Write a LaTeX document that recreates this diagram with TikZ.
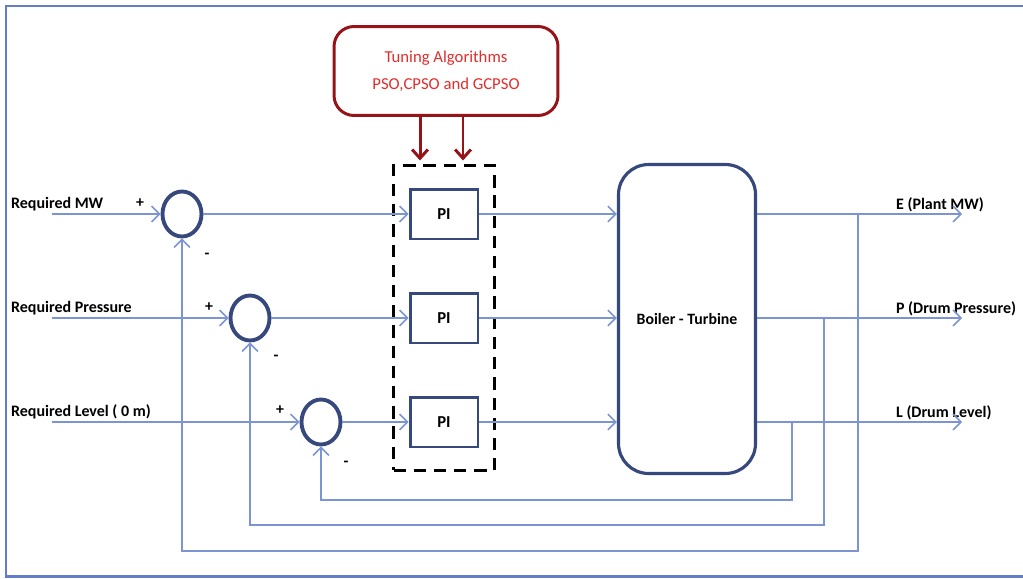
\documentclass[tikz,border=0pt]{standalone}
\usepackage{fontspec}
\setmainfont{Carlito}
\usepackage{xcolor}
\usetikzlibrary{arrows.meta, positioning, fit, shapes.geometric}

\definecolor{sigblue}{RGB}{125,148,212}
\definecolor{navy}{RGB}{55,72,125}
\definecolor{framecol}{RGB}{100,125,200}
\definecolor{tunered}{RGB}{150,20,25}
\definecolor{textred}{RGB}{225,45,45}

\begin{document}
\begin{tikzpicture}[
    x=0.02cm, y=-0.02cm,
    sumpt/.style={
        ellipse,
        draw=navy,
        line width=2.2pt,
        minimum width=0.78cm,
        minimum height=0.9cm,
        inner sep=0pt
    },
    ctrl/.style={
        rectangle,
        draw=navy,
        line width=1.7pt,
        minimum width=1.36cm,
        minimum height=1.0cm,
        font=\fontsize{9.5}{11}\selectfont\bfseries
    },
    plant/.style={
        rectangle,
        draw=navy,
        line width=1.8pt,
        rounded corners=0.6cm,
        minimum width=2.74cm,
        minimum height=6.18cm,
        font=\fontsize{9}{11}\selectfont\bfseries
    },
    tuner/.style={
        rectangle,
        draw=tunered,
        line width=1.7pt,
        rounded corners=0.4cm,
        minimum width=4.48cm,
        minimum height=1.78cm,
        align=center,
        text=textred,
        font=\fontsize{9.5}{15.5}\selectfont
    },
    lbl/.style={inner sep=1pt, font=\fontsize{9.1}{11}\selectfont\bfseries},
    sgn/.style={inner sep=0pt, font=\fontsize{9}{11}\selectfont\bfseries},
    sig/.style={draw=sigblue, line width=0.9pt, -{Straight Barb[length=4.5pt, width=9pt]}},
    tunearrow/.style={draw=tunered, line width=1.7pt, -{Straight Barb[length=5pt, width=9pt]}}
]
\useasboundingbox (0,0) rectangle (1023,578);

% outer frame (open on the right)
\draw[framecol, line width=1.7pt] (1040,6) -- (6,6) -- (6,576) -- (1040,576);

% tuning block
\node[tuner] (tuner) at (446,71) {Tuning Algorithms\\PSO,CPSO and GCPSO};

% summing points
\node[sumpt] (sum1) at (182,214) {};
\node[sumpt] (sum2) at (250,318) {};
\node[sumpt] (sum3) at (321,422) {};

% PI controllers
\node[ctrl] (pi1) at (444,214) {PI};
\node[ctrl] (pi2) at (444,318) {PI};
\node[ctrl] (pi3) at (444,422) {PI};
\node[draw, dashed, dash pattern=on 7pt off 4.5pt, line width=1.7pt,
      inner xsep=0.3cm, inner ysep=0.44cm, fit=(pi1)(pi3)] (group) {};

% plant
\node[plant] (plant) at (687,319) {Boiler - Turbine};

% input labels
\node[lbl, anchor=west] (reqMW) at (9,204) {Required MW};
\node[lbl, anchor=west] (reqP) at (9,308) {Required Pressure};
\node[lbl, anchor=west] (reqL) at (9,412) {Required Level ( 0 m)};
\coordinate (in1) at (52,214);
\coordinate (in2) at (52,318);
\coordinate (in3) at (52,422);

% signs
\node[sgn] (plus1) at (140,203) {+};
\node[sgn] (minus1) at (207,256) {-};
\node[sgn] (plus2) at (209,307) {+};
\node[sgn] (minus2) at (276,358) {-};
\node[sgn] (plus3) at (280,410) {+};
\node[sgn] (minus3) at (346,464) {-};

% outputs
\node[lbl, anchor=west] (outMW) at (894,205) {E (Plant MW)};
\node[lbl, anchor=west] (outP) at (894,309) {P (Drum Pressure)};
\node[lbl, anchor=west] (outL) at (894,413) {L (Drum Level)};
\coordinate (endE) at (962,214);
\coordinate (endP) at (962,318);
\coordinate (endL) at (962,422);

% taps and feedback corners
\coordinate (tapE) at (858,214);
\coordinate (tapP) at (824,318);
\coordinate (tapL) at (792,422);
\coordinate (fbE) at (858,551);
\coordinate (fbP) at (824,525);
\coordinate (fbL) at (792,500);

\draw[tunearrow] ([xshift=-0.52cm]tuner.south) -- ([xshift=-0.52cm, yshift=2pt]tuner.south |- group.north);
\draw[tunearrow] ([xshift=0.34cm]tuner.south) -- ([xshift=0.34cm, yshift=2pt]tuner.south |- group.north);

\draw[sig] (in1) -- (sum1.west);
\draw[sig] (in2) -- (sum2.west);
\draw[sig] (in3) -- (sum3.west);

\draw[sig] (sum1.east) -- (pi1.west);
\draw[sig] (sum2.east) -- (pi2.west);
\draw[sig] (sum3.east) -- (pi3.west);

\draw[sig] (pi1.east) -- (plant.west |- pi1.east);
\draw[sig] (pi2.east) -- (plant.west |- pi2.east);
\draw[sig] (pi3.east) -- (plant.west |- pi3.east);

\draw[sig] (plant.east |- endE) -- (endE);
\draw[sig] (plant.east |- endP) -- (endP);
\draw[sig] (plant.east |- endL) -- (endL);

\draw[sig] (tapE) -- (fbE) -| (sum1.south);
\draw[sig] (tapP) -- (fbP) -| (sum2.south);
\draw[sig] (tapL) -- (fbL) -| (sum3.south);

\end{tikzpicture}
\end{document}
